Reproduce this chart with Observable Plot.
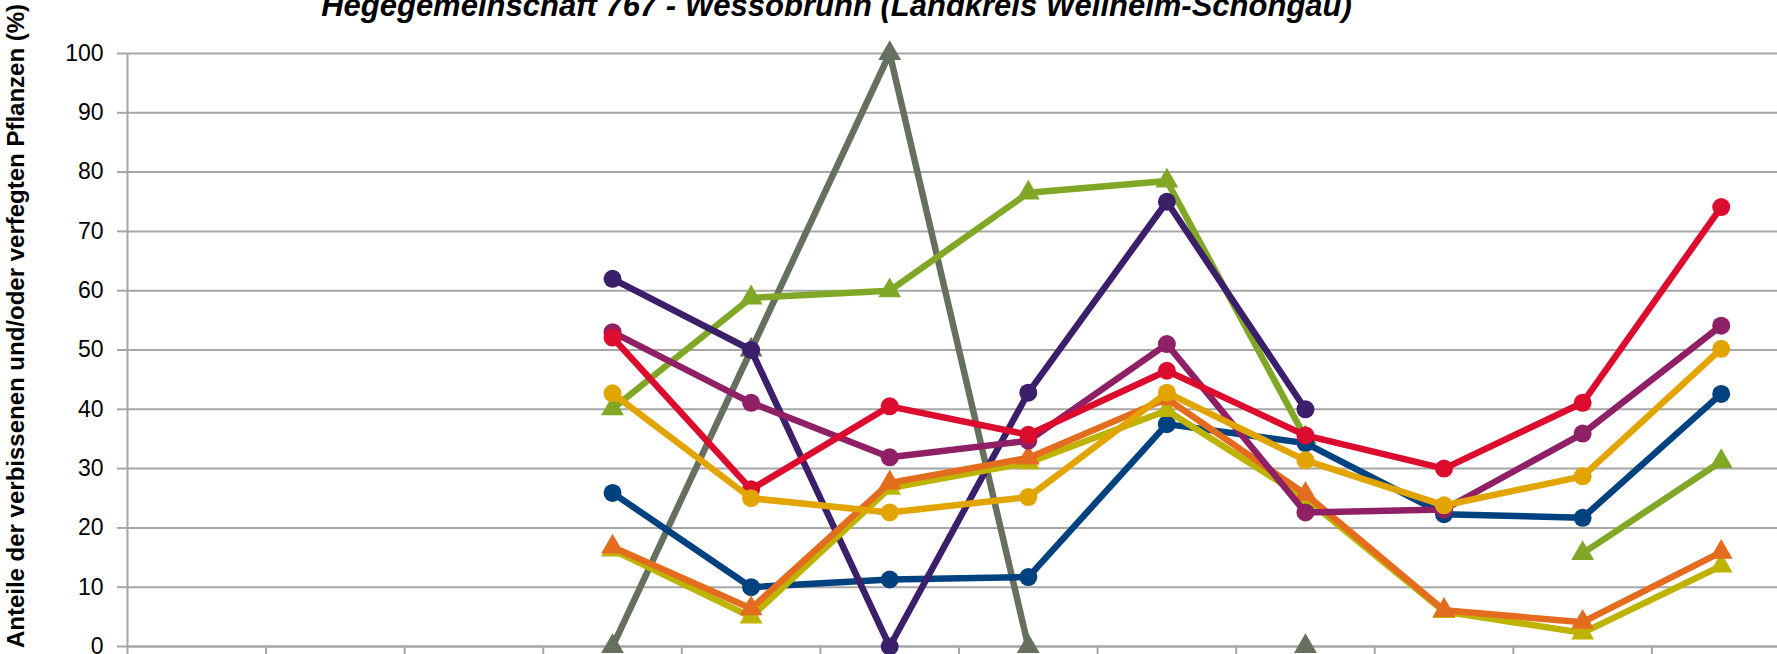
<!DOCTYPE html>
<html>
<head>
<meta charset="utf-8">
<script src="https://cdn.jsdelivr.net/npm/d3@7"></script>
<script src="https://cdn.jsdelivr.net/npm/@observablehq/plot@0.6"></script>
<style>
  html, body { margin: 0; padding: 0; background: #fff; overflow: hidden; width: 1777px; height: 654px; }
  #wrap { position: relative; width: 1777px; height: 654px; }
  #title { position: absolute; left: 0; width: 1673px; top: -10px; text-align: center;
           font: italic bold 31px "Liberation Sans", Arial, sans-serif; line-height: 31px;
           color: #000; white-space: nowrap; z-index: 2; }
  #chart { position: absolute; left: 0; top: 0; }
</style>
</head>
<body>
<div id="wrap">
  <div id="title">Hegegemeinschaft 767 - Wessobrunn (Landkreis Weilheim-Schongau)</div>
  <div id="chart"></div>
</div>
<script>
// Survey years (x categories; labels lie below the visible area)
const years = [1991, 1994, 1997, 2000, 2003, 2006, 2009, 2012, 2015, 2018, 2021, 2024];
const yTicks = [0, 10, 20, 30, 40, 50, 60, 70, 80, 90, 100];
const yLabel = "Anteile der verbissenen und/oder verfegten Pflanzen (%)";

// Series values (percent), null = no value
const grayTri    = [null, null, null, 0, 50, 100, 0, null, 0, null, null, null];
const greenTri   = [null, null, null, 40.1, 58.8, 60.0, 76.5, 78.5, 35.2, null, 15.7, 31.2];
const blueCirc   = [null, null, null, 25.9, 10.0, 11.3, 11.7, 37.5, 34.3, 22.3, 21.7, 42.6];
const purpleCirc = [null, null, null, 62.0, 50.0, 0, 42.8, 75.0, 40.0, null, null, null];
const oliveTri   = [null, null, null, 16.3, 5.0, 26.7, 31.0, 39.8, 25.0, 5.9, 2.3, 13.6];
const orangeTri  = [null, null, null, 16.8, 6.4, 27.6, 31.8, 41.8, 25.7, 6.1, 4.1, 15.9];
const magentaCirc= [null, null, null, 53.0, 41.1, 31.9, 34.7, 51.0, 22.6, 23.1, 35.9, 54.1];
const redCirc    = [null, null, null, 52.1, 26.5, 40.5, 35.7, 46.5, 35.6, 30.0, 41.1, 74.1];
const goldCirc   = [null, null, null, 42.7, 25.0, 22.6, 25.2, 42.8, 31.4, 23.8, 28.7, 50.2];

const seriesList = [
  {name: "Reihe 1", values: grayTri,     color: "#66705f", symbol: "triangle"},
  {name: "Reihe 2", values: greenTri,    color: "#80a826", symbol: "triangle"},
  {name: "Reihe 3", values: blueCirc,    color: "#00427f", symbol: "circle"},
  {name: "Reihe 4", values: purpleCirc,  color: "#3c1f6a", symbol: "circle"},
  {name: "Reihe 5", values: oliveTri,    color: "#bdb300", symbol: "triangle"},
  {name: "Reihe 6", values: orangeTri,   color: "#e46c1e", symbol: "triangle"},
  {name: "Reihe 7", values: magentaCirc, color: "#902066", symbol: "circle"},
  {name: "Reihe 8", values: redCirc,     color: "#dc0c2f", symbol: "circle"},
  {name: "Reihe 9", values: goldCirc,    color: "#e2a500", symbol: "circle"}
];

const gridColor = "#a6a6a6";

const seriesMarks = seriesList.flatMap(s => {
  const rows = s.values.map((v, i) => ({i, year: years[i], v}));
  const pts = rows.filter(d => d.v != null);
  return [
    Plot.line(rows, {x: d => d.i + 0.5, y: "v", stroke: s.color, strokeWidth: 6.5,
                     strokeLinejoin: "round", strokeLinecap: "round"}),
    Plot.dot(pts, {x: d => d.i + 0.5, y: "v", fill: s.color, stroke: "none",
                   symbol: s.symbol, r: s.symbol === "circle" ? 9 : 8.5})
  ];
});

const chart = Plot.plot({
  width: 1777,
  height: 654,
  marginLeft: 127,
  marginRight: -13,
  marginTop: 53,
  marginBottom: 8,
  style: {fontFamily: "'Liberation Sans', Arial, sans-serif", fontSize: "23px", color: "#000",
          background: "transparent", overflow: "visible"},
  x: {domain: [0, years.length], axis: null},
  y: {domain: [0, 100], axis: null},
  marks: [
    Plot.gridY(yTicks, {stroke: gridColor, strokeOpacity: 1, strokeWidth: 2}),
    Plot.axisY(yTicks, {tickSize: 10, tickPadding: 14, stroke: gridColor, strokeWidth: 2,
                        fill: "#000", fontSize: 23, label: null}),
    Plot.axisX(d3.range(0, years.length + 1), {tickSize: 10, tickFormat: () => "",
                        stroke: gridColor, strokeWidth: 2, label: null}),
    Plot.ruleX([0], {stroke: gridColor, strokeWidth: 2}),
    Plot.ruleY([0], {stroke: gridColor, strokeWidth: 2}),
    Plot.text([yLabel], {frameAnchor: "left", text: d => d, rotate: -90, dx: -111, dy: -24,
                         textAnchor: "middle", fontWeight: "bold", fontSize: 24, fill: "#000"}),
    ...seriesMarks
  ]
});
document.getElementById("chart").appendChild(chart);
</script>
</body>
</html>
